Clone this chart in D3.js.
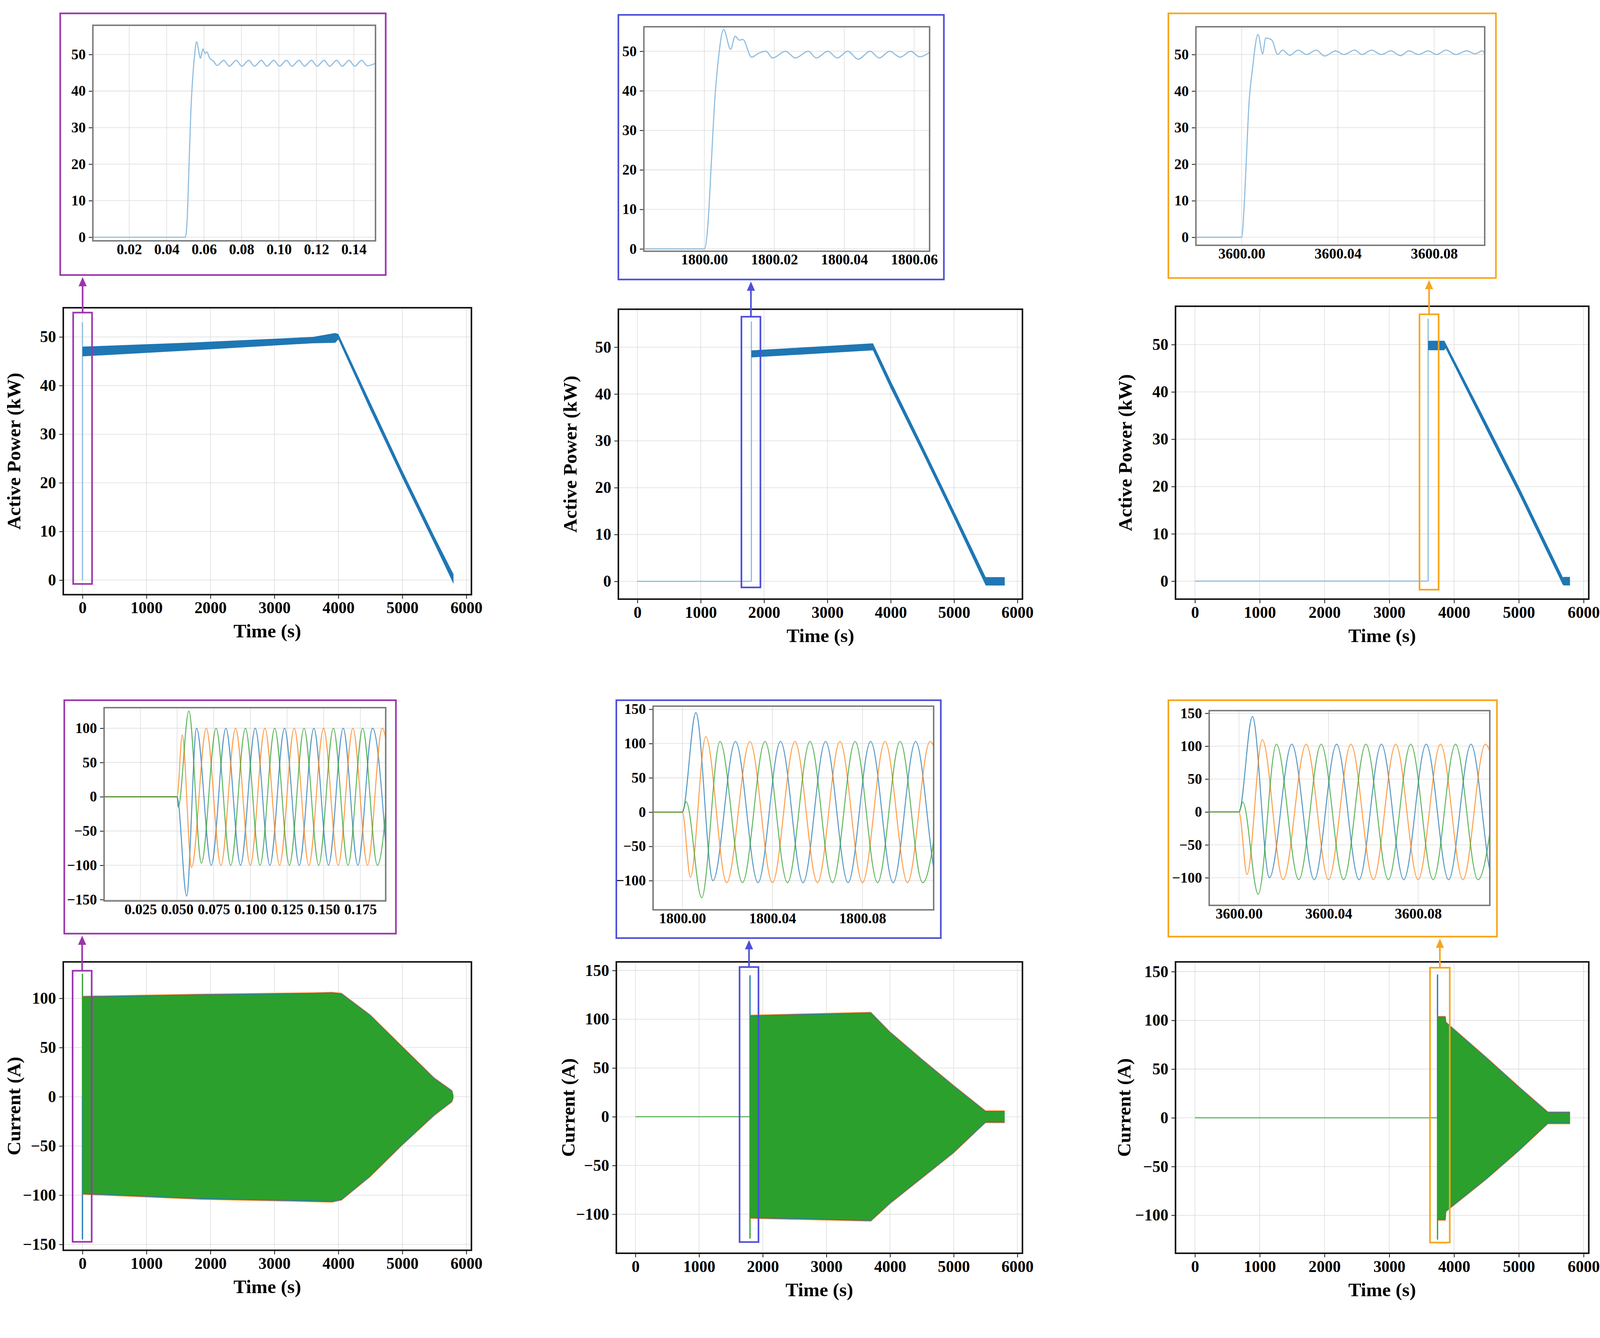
<!DOCTYPE html>
<html>
<head>
<meta charset="utf-8">
<script src="https://cdn.jsdelivr.net/npm/d3@7"></script>
<style>
  html, body { margin: 0; padding: 0; background: #fff; overflow: hidden; }
  #fig { display: block; }
  text { font-family: "Liberation Serif", "Times New Roman", serif; font-weight: bold; }
</style>
</head>
<body>
<svg id="fig"></svg>
<script>
// ---- data ----
const mainTimeTicks = [0, 1000, 2000, 3000, 4000, 5000, 6000];
const powerTicks = [0, 10, 20, 30, 40, 50];

// active power bands (upper / lower edge of the thick trace)
const pA_t  = [0, 1800, 3600, 3950, 4000, 4500, 5000, 5500, 5800];
const pA_hi = [48, 48.9, 50, 50.8, 50.6, 36.5, 22.5, 9, 1.2];
const pA_lo = [46, 47.3, 48.7, 48.8, 49.5, 35, 21, 7.5, -0.8];
const pB_t  = [1800, 3700, 3720, 4000, 4500, 5000, 5500, 5520, 5800];
const pB_hi = [49.3, 50.8, 50.8, 42.8, 29, 15, 0.9, 0.9, 0.9];
const pB_lo = [47.8, 49.3, 49.3, 41.2, 27.5, 13.5, -0.9, -0.9, -0.9];
const pC_t  = [3600, 3850, 3870, 4500, 5000, 5680, 5700, 5790];
const pC_hi = [50.8, 50.8, 50.3, 33.5, 20, 0.8, 0.9, 0.9];
const pC_lo = [48.8, 48.8, 49.2, 32, 18.5, -0.8, -0.9, -0.9];
const pSpike = { A: [0, 53], B: [1800, 55.5], C: [3600, 55.5] };

// zoomed active power around switching
const pZoomA = [[0.0006,0],[0.05,0],[0.051,5],[0.052,20],[0.053,35],[0.054,44],[0.055,50],[0.056,53.5],
  [0.0575,50],[0.058,49],[0.0595,51.5],[0.0605,50.3],[0.0615,50.7],[0.063,49],[0.065,48.2],[0.067,47],
  [0.0705,48.4],[0.0735,46.8],[0.0772,48.4],[0.0802,46.8],[0.0839,48.4],[0.0869,46.8],[0.0906,48.4],
  [0.0936,46.8],[0.0973,48.4],[0.1003,46.8],[0.104,48.4],[0.107,46.8],[0.1107,48.4],[0.1137,46.8],
  [0.1174,48.4],[0.1204,46.8],[0.1241,48.4],[0.1271,46.8],[0.1308,48.4],[0.1338,46.8],[0.1375,48.4],
  [0.1405,46.8],[0.1442,48.4],[0.1472,46.9],[0.1516,47.6]];
const pZoomB = [[1799.983,0],[1800.0,0],[1800.001,6],[1800.002,22],[1800.003,38],[1800.004,48],[1800.0055,55.5],
  [1800.0075,50.5],[1800.0088,53.8],[1800.010,52.8],[1800.011,53],[1800.0135,48.5],[1800.0155,49.5],
  [1800.0176,50],[1800.0195,48.3],[1800.0232,50],[1800.026,48.3],[1800.0297,50],[1800.032,48.3],
  [1800.0353,50],[1800.038,48.3],[1800.041,50],[1800.044,48],[1800.0474,50],[1800.050,48.3],
  [1800.053,50],[1800.056,48.5],[1800.059,50],[1800.0615,48.6],[1800.0644,49.7]];
const pZoomC = [[3599.981,0],[3600.0,0],[3600.001,8],[3600.002,22],[3600.003,36],[3600.0045,46],[3600.0068,55.5],
  [3600.0087,50.2],[3600.010,54.5],[3600.0125,54],[3600.015,50],[3600.017,51.2],[3600.02,49.8],
  [3600.0235,51.2],[3600.027,50],[3600.031,51.2],[3600.0345,49.6],[3600.039,51],[3600.0425,50],
  [3600.047,51.2],[3600.05,50],[3600.054,51.2],[3600.058,50],[3600.062,51],[3600.066,49.7],
  [3600.0695,51],[3600.0735,50],[3600.0775,51],[3600.081,50],[3600.085,51.2],[3600.089,50],
  [3600.0935,51],[3600.097,50.2],[3600.1,51],[3600.101,50.3]];

// three-phase current envelope (upper / lower)
const iA_t  = [0, 1800, 3600, 3900, 4050, 4500, 5000, 5500, 5780, 5800];
const iA_hi = [101, 103, 104.5, 105, 104, 82, 50, 18, 5, 0];
const iA_lo = [-98, -103, -105.5, -106, -104, -80, -48, -18, -4, 0];
const iB_t  = [1800, 3700, 4000, 4500, 5000, 5500, 5800];
const iB_hi = [103, 106, 86, 58, 31, 5, 5];
const iB_lo = [-103, -106, -88, -62, -36, -5, -5];
const iC_t  = [3745, 3870, 3880, 4500, 5000, 5450, 5790];
const iC_hi = [103, 103, 97, 61, 31, 5, 5];
const iC_lo = [-104, -104, -95, -62, -33, -5, -5];
const iSpike = { A: [0, 125, -145], B: [1800, 145, -125], C: [3745, 147, -125] };

// zoomed phase currents: extrema, first case (time in s)
const iaZoomA = [[0.0002,0],[0.05,0],[0.0565,-145],[0.0633,100],[0.0733,-100],[0.0833,100],[0.0933,-100],
  [0.1033,100],[0.1133,-100],[0.1233,100],[0.1333,-100],[0.1433,100],[0.1533,-100],[0.1633,100],
  [0.1733,-100],[0.1833,100],[0.1933,-100]];
const ibZoomA = [[0.0002,0],[0.05,0],[0.0535,90],[0.0599,-103],[0.0699,100],[0.0799,-100],[0.0899,100],
  [0.0999,-100],[0.1099,100],[0.1199,-100],[0.1299,100],[0.1399,-100],[0.1499,100],[0.1599,-100],
  [0.1699,100],[0.1799,-100],[0.1899,100],[0.1999,-100]];
const icZoomA = [[0.0002,0],[0.05,0],[0.0508,-15],[0.058,125],[0.0666,-97],[0.0766,100],[0.0866,-100],
  [0.0966,100],[0.1066,-100],[0.1166,100],[0.1266,-100],[0.1366,100],[0.1466,-100],[0.1566,100],
  [0.1666,-100],[0.1766,100],[0.1866,-100],[0.1966,100]];
// zoomed phase currents, later switching cases (time after switching instant)
const iaZoomRel = [[-0.02,0],[0,0],[0.006,145],[0.0136,-100],[0.0236,103],[0.0336,-103],[0.0436,103],
  [0.0536,-103],[0.0636,103],[0.0736,-103],[0.0836,103],[0.0936,-103],[0.1036,103],[0.1136,-103],[0.1236,103]];
const ibZoomRel = [[-0.02,0],[0,0],[0.0036,-95],[0.0104,110],[0.0197,-103],[0.03,103],[0.04,-103],
  [0.05,103],[0.06,-103],[0.07,103],[0.08,-103],[0.09,103],[0.10,-103],[0.11,103],[0.12,-103]];
const icZoomRel = [[-0.02,0],[0,0],[0.0017,15],[0.0086,-125],[0.0167,103],[0.0267,-103],[0.0367,103],
  [0.0467,-103],[0.0567,103],[0.0667,-103],[0.0767,103],[0.0867,-103],[0.0967,103],[0.1067,-103],[0.1167,103]];

const C_BLUE = '#1f77b4', C_ORANGE = '#ff7f0e', C_GREEN = '#2ca02c';

// layout is written on a 1568 x 900 grid and stretched to the window
const W = window.innerWidth, H = window.innerHeight;
const sx = W / 1568, sy = H / 900, k = Math.min(sx, sy);
const kf = Math.min(sx * 1.05, (sx + sy) / 2);   // text scale
const svg = d3.select('#fig').attr('width', W).attr('height', H);
const S = b => [b[0] * sx, b[1] * sx, b[2] * sy, b[3] * sy];
let clipId = 0;

function frame(box0, xDom, yDom, xTicks, yTicks, fmtX, fs, inset) {
  const box = S(box0);
  const g = svg.append('g');
  const x = d3.scaleLinear().domain(xDom).range([box[0], box[1]]);
  const y = d3.scaleLinear().domain(yDom).range([box[3], box[2]]);
  // grid
  g.selectAll('.gx').data(xTicks).enter().append('line')
    .attr('x1', d => x(d)).attr('x2', d => x(d)).attr('y1', box[2]).attr('y2', box[3])
    .attr('stroke', '#ddd').attr('stroke-width', 0.6 * k);
  g.selectAll('.gy').data(yTicks).enter().append('line')
    .attr('y1', d => y(d)).attr('y2', d => y(d)).attr('x1', box[0]).attr('x2', box[1])
    .attr('stroke', '#ddd').attr('stroke-width', 0.6 * k);
  const id = 'clip' + (clipId++);
  g.append('clipPath').attr('id', id).append('rect')
    .attr('x', box[0]).attr('y', box[2]).attr('width', box[1] - box[0]).attr('height', box[3] - box[2]);
  const plot = g.append('g').attr('clip-path', `url(#${id})`);
  const ax = g.append('g').attr('transform', `translate(0,${box[3]})`)
    .call(d3.axisBottom(x).tickValues(xTicks).tickFormat(fmtX).tickSize(inset ? 0 : 4 * k).tickPadding(3 * k).tickSizeOuter(0));
  const ay = g.append('g').attr('transform', `translate(${box[0]},0)`)
    .call(d3.axisLeft(y).tickValues(yTicks).tickSize(4 * k).tickPadding(3 * k).tickSizeOuter(0));
  [ax, ay].forEach(a => {
    a.select('.domain').remove();
    a.selectAll('text').attr('font-size', fs * kf).attr('fill', '#000');
    a.selectAll('line').attr('stroke', '#222').attr('stroke-width', 0.8 * k);
  });
  g.append('rect').attr('x', box[0]).attr('y', box[2])
    .attr('width', box[1] - box[0]).attr('height', box[3] - box[2])
    .attr('fill', 'none').attr('stroke', inset ? '#777' : '#111').attr('stroke-width', (inset ? 1.4 : 1.5) * k);
  return { g, x, y, plot };
}

function band(f, t, hi, lo, color) {
  const rows = t.map((d, i) => ({ t: d, hi: hi[i], lo: lo[i] }));
  f.plot.append('path').datum(rows)
    .attr('d', d3.area().x(d => f.x(d.t)).y0(d => f.y(d.lo)).y1(d => f.y(d.hi)))
    .attr('fill', color);
}
function line(f, pts, color, w, curve) {
  f.plot.append('path').datum(pts)
    .attr('d', d3.line().x(d => f.x(d[0])).y(d => f.y(d[1])).curve(curve || d3.curveLinear))
    .attr('fill', 'none').attr('stroke', color).attr('stroke-width', w * k);
}
function labels(box0, ylab, ylx) {
  const box = S(box0);
  svg.append('text').attr('x', (box[0] + box[1]) / 2).attr('y', box[3] + 40 * kf)
    .attr('text-anchor', 'middle').attr('font-size', 18 * kf).text('Time (s)');
  svg.append('text').attr('transform', `translate(${ylx * sx},${(box[2] + box[3]) / 2}) rotate(-90)`)
    .attr('text-anchor', 'middle').attr('font-size', 18 * kf).text(ylab);
}
function callout(f, rx, ry, outer0, color) {
  const outer = S(outer0);
  const x0 = f.x(rx[0]), x1 = f.x(rx[1]), y0 = f.y(ry[1]), y1 = f.y(ry[0]);
  const sw = 1.6 * k;
  svg.append('rect').attr('x', x0).attr('y', y0).attr('width', x1 - x0).attr('height', y1 - y0)
    .attr('fill', 'none').attr('stroke', color).attr('stroke-width', sw);
  svg.append('rect').attr('x', outer[0]).attr('y', outer[2])
    .attr('width', outer[1] - outer[0]).attr('height', outer[3] - outer[2])
    .attr('fill', 'none').attr('stroke', color).attr('stroke-width', sw);
  const cx = (x0 + x1) / 2, ah = 9 * k, aw = 4 * k, tip = outer[3] + 2 * k;
  svg.append('line').attr('x1', cx).attr('x2', cx).attr('y1', y0).attr('y2', tip + ah - 1)
    .attr('stroke', color).attr('stroke-width', sw);
  svg.append('path').attr('d', `M${cx - aw},${tip + ah} L${cx + aw},${tip + ah} L${cx},${tip} Z`)
    .attr('fill', color);
}

const fmt0 = d3.format('d');
const zoomColors = { a: 'rgba(31,119,180,0.75)', b: 'rgba(255,127,14,0.75)', c: 'rgba(44,160,44,0.75)' };

// ---------- power panels ----------
const powerCases = [
  { main: [62, 462, 207, 400], yDom: [-3, 56], outer: [59, 378, 9, 185], inner: [91, 368, 17, 162],
    t: pA_t, hi: pA_hi, lo: pA_lo, spike: pSpike.A, pre: null, zoom: pZoomA,
    zx: [0.0006, 0.1516], zy: [-1, 58], zt: [0.02, 0.04, 0.06, 0.08, 0.10, 0.12, 0.14], zf: d3.format('.2f'),
    rx: [-145, 150], ry: [-0.8, 55], color: '#9b35ad', ylx: 20 },
  { main: [606, 1002, 208, 403], yDom: [-3.8, 58.1], outer: [606, 925, 10, 188], inner: [631, 911, 18, 169],
    t: pB_t, hi: pB_hi, lo: pB_lo, spike: pSpike.B, pre: 1800, zoom: pZoomB,
    zx: [1799.9827, 1800.0644], zy: [-0.6, 56.2], zt: [1800.00, 1800.02, 1800.04, 1800.06], zf: d3.format('.2f'),
    rx: [1643, 1943], ry: [-1.3, 56.5], color: '#4d4fd9', ylx: 565 },
  { main: [1152, 1557, 206, 403], yDom: [-3.8, 58.1], outer: [1145, 1466, 9, 187], inner: [1172, 1455, 18, 165],
    t: pC_t, hi: pC_hi, lo: pC_lo, spike: pSpike.C, pre: 3600, zoom: pZoomC,
    zx: [3599.981, 3600.101], zy: [-2.2, 57.6], zt: [3600.00, 3600.04, 3600.08], zf: d3.format('.2f'),
    rx: [3467, 3762], ry: [-1.8, 56.4], color: '#f7a51c', ylx: 1109 }
];

powerCases.forEach(c => {
  const f = frame(c.main, [-300, 6080], c.yDom, mainTimeTicks, powerTicks, fmt0, 15, false);
  if (c.pre !== null) line(f, [[0, 0], [c.pre, 0]], '#8fbde0', 1.2);
  line(f, [[c.spike[0], 0], [c.spike[0], c.spike[1]]], '#8fbde0', 1.2);
  band(f, c.t, c.hi, c.lo, C_BLUE);
  labels(c.main, 'Active Power (kW)', c.ylx);
  const z = frame(c.inner, c.zx, c.zy, c.zt, powerTicks, c.zf, 13.5, true);
  line(z, c.zoom, '#8fbde0', 1.1, d3.curveMonotoneX);
  callout(f, c.rx, c.ry, c.outer, c.color);
});

// ---------- current panels ----------
function shift(pts, t0) { return pts.map(p => [p[0] + t0, p[1]]); }
const currentCases = [
  { main: [62, 462, 647, 841], yDom: [-156, 137], yt: [-150, -100, -50, 0, 50, 100],
    outer: [63, 388, 471, 628], inner: [102, 378, 476, 606],
    t: iA_t, hi: iA_hi, lo: iA_lo, spike: iSpike.A, pre: null,
    za: iaZoomA, zb: ibZoomA, zc: icZoomA,
    zx: [0.0002, 0.1923], zy: [-152, 130], zyt: [-150, -100, -50, 0, 50, 100],
    zt: [0.025, 0.05, 0.075, 0.1, 0.125, 0.15, 0.175], zf: d3.format('.3f'),
    rx: [-154, 144], ry: [-147.4, 128], color: '#9b35ad', ylx: 20 },
  { main: [604, 1002, 647, 843], yDom: [-140, 158.8], yt: [-100, -50, 0, 50, 100, 150],
    outer: [604, 922, 471, 631], inner: [640, 915, 475, 612],
    t: iB_t, hi: iB_hi, lo: iB_lo, spike: iSpike.B, pre: 1800,
    za: shift(iaZoomRel, 1800), zb: shift(ibZoomRel, 1800), zc: shift(icZoomRel, 1800),
    zx: [1799.987, 1800.1116], zy: [-142.6, 154.5], zyt: [-100, -50, 0, 50, 100, 150],
    zt: [1800.00, 1800.04, 1800.08], zf: d3.format('.2f'),
    rx: [1636, 1933], ry: [-128.5, 153.5], color: '#4d4fd9', ylx: 563 },
  { main: [1152, 1557, 647, 843], yDom: [-139, 160], yt: [-100, -50, 0, 50, 100, 150],
    outer: [1145, 1467, 471, 630], inner: [1185, 1460, 478, 609],
    t: iC_t, hi: iC_hi, lo: iC_lo, spike: iSpike.C, pre: 3745,
    za: shift(iaZoomRel, 3600), zb: shift(ibZoomRel, 3600), zc: shift(icZoomRel, 3600),
    zx: [3599.9867, 3600.112], zy: [-142, 154], zyt: [-100, -50, 0, 50, 100, 150],
    zt: [3600.00, 3600.04, 3600.08], zf: d3.format('.2f'),
    rx: [3629, 3934], ry: [-128, 154], color: '#f7a51c', ylx: 1108 }
];

currentCases.forEach(c => {
  const f = frame(c.main, [-300, 6080], c.yDom, mainTimeTicks, c.yt, fmt0, 15, false);
  if (c.pre !== null) line(f, [[0, 0], [c.pre, 0]], '#6dbb6d', 1.2);
  line(f, [[c.spike[0], 0], [c.spike[0], c.spike[1]]], c.pre === null ? C_GREEN : C_BLUE, 1.2);
  line(f, [[c.spike[0], 0], [c.spike[0], c.spike[2]]], c.pre === null ? C_BLUE : C_GREEN, 1.2);
  // phase edges peeking out of the dense green fill
  band(f, c.t, c.hi.map(v => v + 1.5), c.lo.map(v => v - 1.5), C_ORANGE);
  band(f, c.t, c.hi.map(v => v + 0.8), c.lo.map(v => v - 0.8), C_BLUE);
  band(f, c.t, c.hi, c.lo, C_GREEN);
  labels(c.main, 'Current (A)', c.ylx);
  const z = frame(c.inner, c.zx, c.zy, c.zt, c.zyt, c.zf, 13.5, true);
  line(z, c.za, zoomColors.a, 1, d3.curveMonotoneX);
  line(z, c.zb, zoomColors.b, 1, d3.curveMonotoneX);
  line(z, c.zc, zoomColors.c, 1, d3.curveMonotoneX);
  callout(f, c.rx, c.ry, c.outer, c.color);
});
</script>
</body>
</html>
